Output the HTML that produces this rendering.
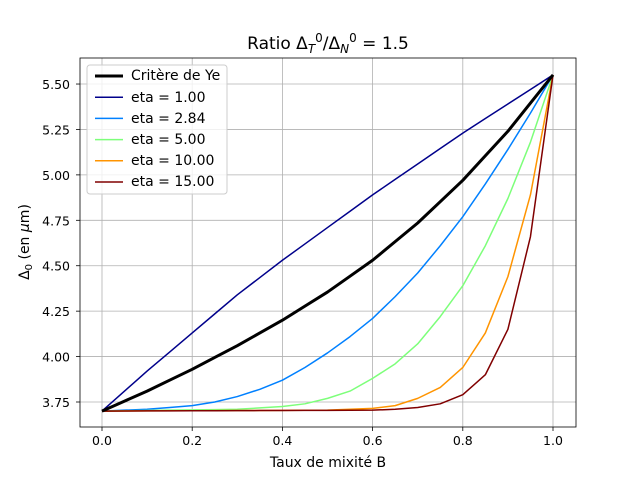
<!DOCTYPE html>
<html><head><meta charset="utf-8"><style>
body{margin:0;background:#fff}
svg text{font-family:"DejaVu Sans","Liberation Sans",sans-serif;font-size:12.5px;fill:#000}
</style></head><body>
<svg id="s" width="640" height="480" xmlns="http://www.w3.org/2000/svg">
<rect width="640" height="480" fill="#fff"/>
<g id="grid" stroke="#b0b0b0" stroke-width="0.8"></g>
<g id="lines" fill="none" stroke-linejoin="round"></g>
<rect x="80" y="58" width="496" height="369" fill="none" stroke="#000" stroke-width="0.8"/>
<g id="ticks" stroke="#000" stroke-width="0.8"></g>
<g text-anchor="middle">
<text x="102" y="445">0.0</text><text x="192.2" y="445">0.2</text><text x="282.4" y="445">0.4</text><text x="372.6" y="445">0.6</text><text x="462.8" y="445">0.8</text><text x="553" y="445">1.0</text>
<text x="328" y="467" style="font-size:14px">Taux de mixité B</text>
<text x="328" y="49" style="font-size:17px">Ratio Δ<tspan font-style="italic" dy="4" font-size="12">T</tspan><tspan dy="-11" font-size="12">0</tspan><tspan dy="7">/Δ</tspan><tspan font-style="italic" dy="4" font-size="12">N</tspan><tspan dy="-11" font-size="12">0</tspan><tspan dy="7"> = 1.5</tspan></text>
</g>
<g text-anchor="end">
<text x="70" y="407">3.75</text><text x="70" y="361.6">4.00</text><text x="70" y="316.1">4.25</text><text x="70" y="270.7">4.50</text><text x="70" y="225.3">4.75</text><text x="70" y="179.9">5.00</text><text x="70" y="134.4">5.25</text><text x="70" y="89">5.50</text>
</g>
<text transform="translate(29,242) rotate(-90)" text-anchor="middle" style="font-size:14px">Δ<tspan font-size="10" dy="3">0</tspan><tspan dy="-3"> (en </tspan><tspan font-style="italic">μ</tspan>m)</text>
<rect x="87" y="65" width="140" height="129" fill="#fff" fill-opacity="0.8" stroke="#ccc" rx="3"/>
<g id="leg"></g>
<g style="font-size:14px">
<text x="131" y="80" style="font-size:14px">Critère de Ye</text>
<text x="131" y="102" style="font-size:14px">eta = 1.00</text>
<text x="131" y="123" style="font-size:14px">eta = 2.84</text>
<text x="131" y="144" style="font-size:14px">eta = 5.00</text>
<text x="131" y="165" style="font-size:14px">eta = 10.00</text>
<text x="131" y="186" style="font-size:14px">eta = 15.00</text>
</g>
</svg>
<script>
const X=v=>102+v*451, Y=v=>402-(v-3.75)*181.7;
const ns="http://www.w3.org/2000/svg";
function el(p,t,a){const e=document.createElementNS(ns,t);for(const k in a)e.setAttribute(k,a[k]);document.getElementById(p).appendChild(e);}
[0,.2,.4,.6,.8,1].forEach(v=>{el("grid","line",{x1:X(v),x2:X(v),y1:58,y2:427});el("ticks","line",{x1:X(v),x2:X(v),y1:427,y2:431});});
[3.75,4,4.25,4.5,4.75,5,5.25,5.5].forEach(v=>{el("grid","line",{x1:80,x2:576,y1:Y(v),y2:Y(v)});el("ticks","line",{x1:76,x2:80,y1:Y(v),y2:Y(v)});});
const B=[];for(let i=0;i<=20;i++)B.push(i*0.05);
function interp(pts,G){return G.map(b=>{for(let i=0;i<pts.length-1;i++){const[a,av]=pts[i],[c,cv]=pts[i+1];if(b>=a-1e-9&&b<=c+1e-9)return av+(cv-av)*(b-a)/(c-a);}return pts[pts.length-1][1];});}
const series=[
["#000",3,[[0,3.70],[0.1,3.81],[0.2,3.93],[0.3,4.06],[0.4,4.20],[0.5,4.355],[0.6,4.53],[0.7,4.735],[0.8,4.97],[0.9,5.24],[1,5.55]]],
["#00008b",1.5,[[0,3.70],[0.1,3.92],[0.2,4.13],[0.3,4.34],[0.4,4.53],[0.5,4.71],[0.6,4.89],[0.7,5.06],[0.8,5.23],[0.9,5.39],[1,5.55]]],
["#0080ff",1.5,[[0,3.70],[0.1,3.71],[0.2,3.73],[0.25,3.75],[0.3,3.78],[0.35,3.82],[0.4,3.87],[0.45,3.94],[0.5,4.02],[0.55,4.11],[0.6,4.21],[0.65,4.33],[0.7,4.46],[0.75,4.61],[0.8,4.77],[0.85,4.95],[0.9,5.14],[0.95,5.34],[1,5.55]]],
["#7dff7a",1.5,[[0,3.70],[0.3,3.71],[0.4,3.725],[0.45,3.74],[0.5,3.77],[0.55,3.81],[0.6,3.88],[0.65,3.96],[0.7,4.07],[0.75,4.22],[0.8,4.39],[0.85,4.61],[0.9,4.87],[0.95,5.18],[1,5.55]]],
["#ff9400",1.5,[[0,3.70],[0.5,3.705],[0.6,3.715],[0.65,3.73],[0.7,3.77],[0.75,3.83],[0.8,3.94],[0.85,4.13],[0.9,4.44],[0.95,4.89],[1,5.55]]],
["#800000",1.5,[[0,3.70],[0.6,3.705],[0.65,3.71],[0.7,3.72],[0.75,3.74],[0.8,3.79],[0.85,3.90],[0.9,4.15],[0.95,4.66],[1,5.55]]]];
series.slice(1).concat([series[0]]).forEach(([c,w,p])=>{const v=interp(p,B);el("lines","polyline",{stroke:c,"stroke-width":w,points:B.map((b,i)=>X(b)+","+Y(v[i])).join(" ")});});
series.forEach(([c,w],i)=>el("leg","line",{x1:95,x2:123,y1:76+i*21.2,y2:76+i*21.2,stroke:c,"stroke-width":w}));
</script>
</body></html>
